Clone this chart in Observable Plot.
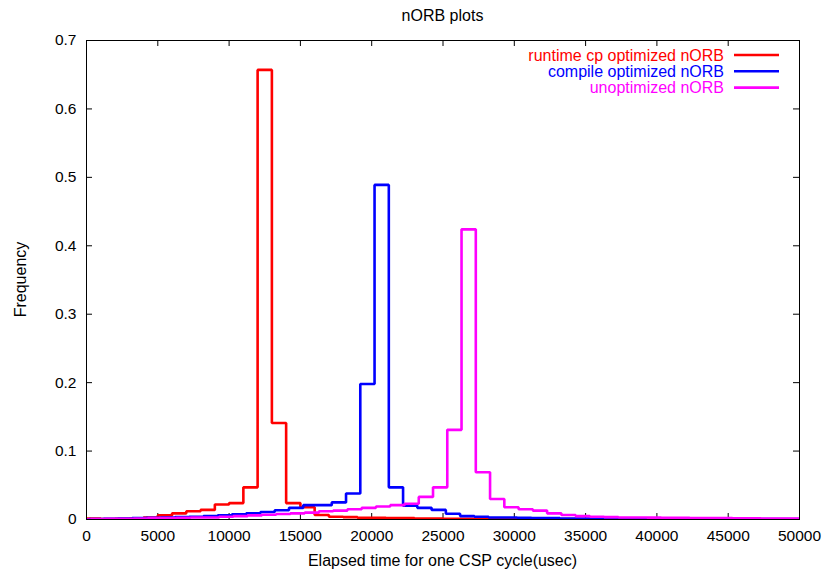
<!DOCTYPE html>
<html><head><meta charset="utf-8">
<script src="https://cdn.jsdelivr.net/npm/d3@7"></script>
<script src="https://cdn.jsdelivr.net/npm/@observablehq/plot@0.6"></script>
<style>
body{margin:0;background:#fff;font-family:"Liberation Sans",Arial,sans-serif;}
#wrap{position:relative;width:826px;height:571px;}
#overlay{position:absolute;left:0;top:0;pointer-events:none;}
</style></head><body><div id="wrap"></div>
<script>
const chartTitle = "nORB plots";
const xLabel = "Elapsed time for one CSP cycle(usec)";
const yLabel = "Frequency";
const xTicks = [0,5000,10000,15000,20000,25000,30000,35000,40000,45000,50000];
const yTicks = [0,0.1,0.2,0.3,0.4,0.5,0.6,0.7];
const seriesNames = ["runtime cp optimized nORB","compile optimized nORB","unoptimized nORB"];
const seriesColors = ["#ff0000","#0000ff","#ff00ff"];
const binWidth = 1000;
const binStarts = [0, 200, 300];
const redFreq = [0.0015,0.0008,0.001,0.0015,0.003,0.006,0.009,0.012,0.014,0.022,
  0.024,0.047,0.657,0.141,0.024,0.018,0.0065,0.004,0.0035,0.0025,
  0.0025,0.002,0.002,0.0015,0.0015,0.0012,0.001,0.001,0.001,0.0009,
  0.0009,0.0008,0.0008,0.0008,0.0007,0.0007,0.0007,0.0006,0.0006,0.0006,
  0.0006,0.0005,0.0005,0.0005,0.0005,0.0005,0.0004,0.0004,0.0004,0.0004];
const blueFreq = [0.0008,0.001,0.0015,0.002,0.0025,0.003,0.0035,0.004,0.005,0.006,
  0.0075,0.009,0.011,0.0135,0.017,0.021,0.021,0.025,0.038,0.198,
  0.489,0.047,0.020,0.017,0.014,0.0085,0.005,0.004,0.003,0.003,
  0.0025,0.002,0.002,0.0015,0.0015,0.0014,0.0013,0.0012,0.0011,0.001,
  0.001,0.0009,0.0009,0.0008,0.0008,0.0007,0.0007,0.0006,0.0006,0.0006];
const magentaFreq = [0.0005,0.001,0.001,0.0015,0.002,0.002,0.0025,0.003,0.003,0.004,
  0.005,0.006,0.007,0.008,0.009,0.010,0.012,0.013,0.015,0.017,
  0.019,0.021,0.023,0.033,0.047,0.131,0.424,0.069,0.030,0.018,
  0.015,0.013,0.009,0.0065,0.005,0.004,0.0035,0.003,0.003,0.0028,
  0.0025,0.0024,0.0022,0.002,0.002,0.0018,0.0016,0.0015,0.0014,0.0013];

const allFreq = [redFreq, blueFreq, magentaFreq];
const rows = [];
allFreq.forEach((arr, s) => {
  const start = binStarts[s];
  const name = seriesNames[s];
  if (start > 0) rows.push({series: name, x: 0, y: 0});
  arr.forEach((v, i) => rows.push({series: name, x: start + i * binWidth, y: v}));
  rows.push({series: name, x: start + arr.length * binWidth, y: arr[arr.length - 1]});
});

const W = 826, H = 571, mL = 86, mR = 27, mT = 40, mB = 52;
const fW = W - mL - mR, fH = H - mT - mB;
const font = "'Liberation Sans', Arial, sans-serif";

const plot = Plot.plot({
  width: W, height: H,
  marginLeft: mL, marginRight: mR, marginTop: mT, marginBottom: mB,
  style: {fontFamily: font, fontSize: "15.5px", color: "#000", background: "#fff", overflow: "visible"},
  x: {domain: [0, 50000]},
  y: {domain: [0, 0.7]},
  color: {domain: seriesNames, range: seriesColors},
  marks: [
    Plot.axisX({ticks: xTicks, tickSize: 0, tickPadding: 10, tickFormat: d => String(d),
      label: null}),
    Plot.axisY({ticks: yTicks, tickSize: 0, tickPadding: 10, tickFormat: d => String(d),
      label: null}),
    Plot.tickX(xTicks, {x: d => d, insetTop: fH - 6, stroke: "#000"}),
    Plot.tickX(xTicks, {x: d => d, insetBottom: fH - 6, stroke: "#000"}),
    Plot.tickY(yTicks, {y: d => d, insetRight: fW - 6, stroke: "#000"}),
    Plot.tickY(yTicks, {y: d => d, insetLeft: fW - 6, stroke: "#000"}),
    Plot.line(rows, {x: "x", y: "y", z: "series", stroke: "series", curve: "step-after",
      strokeWidth: 2.6, strokeLinejoin: "miter", clip: true}),
    Plot.frame({stroke: "#000"})
  ]
});
const wrap = document.getElementById("wrap");
wrap.appendChild(plot);

// overlay: title, axis labels and key
const svg = d3.select(wrap).append("svg").attr("id", "overlay").attr("width", W).attr("height", H)
  .style("font-family", font);
svg.append("text").attr("x", mL + fW / 2).attr("y", 15).attr("dy", "0.35em").attr("text-anchor", "middle")
  .style("font-size", "16px").text(chartTitle);
svg.append("text").attr("x", mL + fW / 2).attr("y", 560).attr("dy", "0.35em").attr("text-anchor", "middle")
  .style("font-size", "16px").text(xLabel);
svg.append("text").attr("transform", `translate(20,${mT + fH / 2}) rotate(-90)`).attr("dy", "0.35em")
  .attr("text-anchor", "middle").style("font-size", "16px").text(yLabel);
seriesNames.forEach((n, i) => {
  const yy = 55 + i * 16.3;
  svg.append("text").attr("x", 724).attr("y", yy).attr("dy", "0.35em").attr("text-anchor", "end")
    .attr("fill", seriesColors[i]).style("font-size", "16px").text(n);
  svg.append("line").attr("x1", 734).attr("x2", 779).attr("y1", yy).attr("y2", yy)
    .attr("stroke", seriesColors[i]).attr("stroke-width", 2.6);
});
</script></body></html>
